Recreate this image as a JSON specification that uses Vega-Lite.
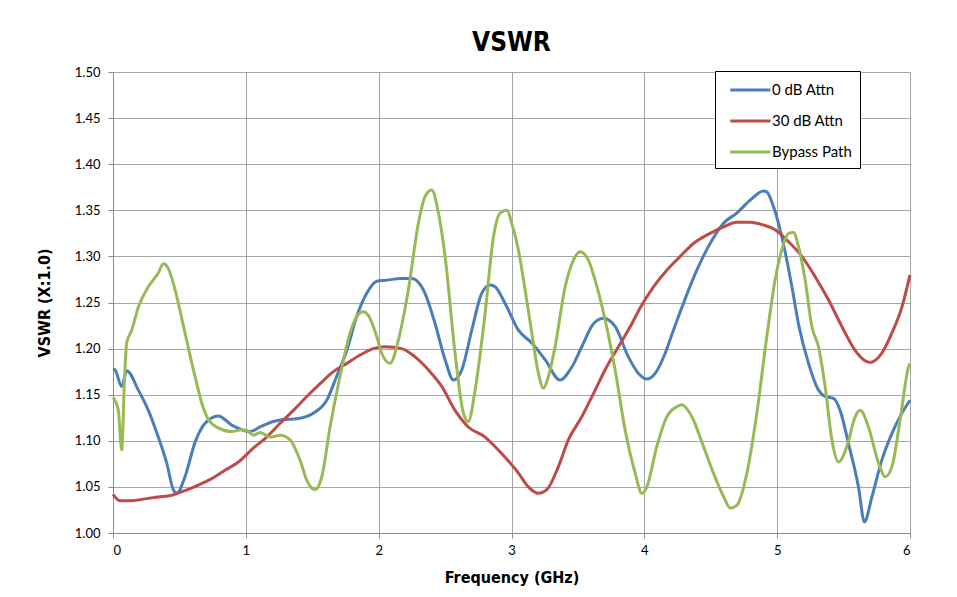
{
  "$schema": "https://vega.github.io/schema/vega-lite/v6.json",
  "autosize": "none",
  "width": 797,
  "height": 461,
  "padding": {"left": 113, "top": 72, "right": 47, "bottom": 64},
  "background": "white",
  "title": {"text": "VSWR", "anchor": "middle", "fontSize": 26, "font": "DejaVu Sans Condensed, Liberation Sans Narrow, sans-serif", "fontWeight": "bold", "color": "#000000", "offset": 10},
  "config": {
    "view": {"stroke": "#8c8c8c", "strokeWidth": 1},
    "axis": {"gridColor": "#a6a6a6", "gridWidth": 1, "domainColor": "#8c8c8c", "tickColor": "#8c8c8c", "tickSize": 5, "labelFont": "Lato", "labelFontSize": 13, "labelColor": "#000000", "titleFont": "DejaVu Sans Condensed, Liberation Sans Narrow, sans-serif", "titleFontSize": 16, "titleFontWeight": "bold", "titleColor": "#000000"},
    "legend": {"labelFont": "Lato", "labelFontSize": 15, "labelColor": "#000000"}
  },
  "data": {"values": [
    {"s":"0 dB Attn","f":0.0,"v":1.178},{"s":"0 dB Attn","f":0.015,"v":1.177},{"s":"0 dB Attn","f":0.066,"v":1.159},{"s":"0 dB Attn","f":0.103,"v":1.176},{"s":"0 dB Attn","f":0.191,"v":1.155},{"s":"0 dB Attn","f":0.266,"v":1.133},{"s":"0 dB Attn","f":0.341,"v":1.104},{"s":"0 dB Attn","f":0.404,"v":1.076},{"s":"0 dB Attn","f":0.454,"v":1.047},{"s":"0 dB Attn","f":0.48,"v":1.043},{"s":"0 dB Attn","f":0.542,"v":1.061},{"s":"0 dB Attn","f":0.617,"v":1.098},{"s":"0 dB Attn","f":0.693,"v":1.119},{"s":"0 dB Attn","f":0.793,"v":1.127},{"s":"0 dB Attn","f":0.894,"v":1.117},{"s":"0 dB Attn","f":0.969,"v":1.112},{"s":"0 dB Attn","f":1.032,"v":1.11},{"s":"0 dB Attn","f":1.107,"v":1.115},{"s":"0 dB Attn","f":1.207,"v":1.121},{"s":"0 dB Attn","f":1.282,"v":1.123},{"s":"0 dB Attn","f":1.383,"v":1.124},{"s":"0 dB Attn","f":1.508,"v":1.13},{"s":"0 dB Attn","f":1.609,"v":1.144},{"s":"0 dB Attn","f":1.684,"v":1.17},{"s":"0 dB Attn","f":1.76,"v":1.198},{"s":"0 dB Attn","f":1.835,"v":1.235},{"s":"0 dB Attn","f":1.91,"v":1.26},{"s":"0 dB Attn","f":1.986,"v":1.273},{"s":"0 dB Attn","f":2.048,"v":1.274},{"s":"0 dB Attn","f":2.174,"v":1.276},{"s":"0 dB Attn","f":2.249,"v":1.276},{"s":"0 dB Attn","f":2.349,"v":1.26},{"s":"0 dB Attn","f":2.425,"v":1.227},{"s":"0 dB Attn","f":2.5,"v":1.188},{"s":"0 dB Attn","f":2.563,"v":1.166},{"s":"0 dB Attn","f":2.626,"v":1.177},{"s":"0 dB Attn","f":2.701,"v":1.22},{"s":"0 dB Attn","f":2.776,"v":1.26},{"s":"0 dB Attn","f":2.839,"v":1.269},{"s":"0 dB Attn","f":2.877,"v":1.267},{"s":"0 dB Attn","f":2.952,"v":1.249},{"s":"0 dB Attn","f":3.052,"v":1.22},{"s":"0 dB Attn","f":3.153,"v":1.206},{"s":"0 dB Attn","f":3.253,"v":1.188},{"s":"0 dB Attn","f":3.366,"v":1.166},{"s":"0 dB Attn","f":3.454,"v":1.18},{"s":"0 dB Attn","f":3.529,"v":1.202},{"s":"0 dB Attn","f":3.617,"v":1.227},{"s":"0 dB Attn","f":3.692,"v":1.233},{"s":"0 dB Attn","f":3.78,"v":1.224},{"s":"0 dB Attn","f":3.88,"v":1.191},{"s":"0 dB Attn","f":3.956,"v":1.173},{"s":"0 dB Attn","f":4.019,"v":1.167},{"s":"0 dB Attn","f":4.081,"v":1.173},{"s":"0 dB Attn","f":4.157,"v":1.195},{"s":"0 dB Attn","f":4.219,"v":1.22},{"s":"0 dB Attn","f":4.294,"v":1.249},{"s":"0 dB Attn","f":4.395,"v":1.285},{"s":"0 dB Attn","f":4.495,"v":1.314},{"s":"0 dB Attn","f":4.596,"v":1.336},{"s":"0 dB Attn","f":4.696,"v":1.347},{"s":"0 dB Attn","f":4.797,"v":1.361},{"s":"0 dB Attn","f":4.897,"v":1.371},{"s":"0 dB Attn","f":4.922,"v":1.37},{"s":"0 dB Attn","f":4.972,"v":1.354},{"s":"0 dB Attn","f":5.06,"v":1.305},{"s":"0 dB Attn","f":5.111,"v":1.267},{"s":"0 dB Attn","f":5.16,"v":1.227},{"s":"0 dB Attn","f":5.236,"v":1.184},{"s":"0 dB Attn","f":5.311,"v":1.155},{"s":"0 dB Attn","f":5.361,"v":1.148},{"s":"0 dB Attn","f":5.424,"v":1.146},{"s":"0 dB Attn","f":5.474,"v":1.133},{"s":"0 dB Attn","f":5.537,"v":1.097},{"s":"0 dB Attn","f":5.612,"v":1.05},{"s":"0 dB Attn","f":5.657,"v":1.012},{"s":"0 dB Attn","f":5.713,"v":1.039},{"s":"0 dB Attn","f":5.788,"v":1.079},{"s":"0 dB Attn","f":5.864,"v":1.108},{"s":"0 dB Attn","f":5.939,"v":1.13},{"s":"0 dB Attn","f":6.0,"v":1.144},
    {"s":"30 dB Attn","f":0.0,"v":1.042},{"s":"30 dB Attn","f":0.053,"v":1.035},{"s":"30 dB Attn","f":0.141,"v":1.035},{"s":"30 dB Attn","f":0.241,"v":1.037},{"s":"30 dB Attn","f":0.341,"v":1.039},{"s":"30 dB Attn","f":0.442,"v":1.041},{"s":"30 dB Attn","f":0.542,"v":1.046},{"s":"30 dB Attn","f":0.642,"v":1.052},{"s":"30 dB Attn","f":0.743,"v":1.059},{"s":"30 dB Attn","f":0.843,"v":1.068},{"s":"30 dB Attn","f":0.944,"v":1.077},{"s":"30 dB Attn","f":1.056,"v":1.092},{"s":"30 dB Attn","f":1.157,"v":1.104},{"s":"30 dB Attn","f":1.258,"v":1.119},{"s":"30 dB Attn","f":1.358,"v":1.133},{"s":"30 dB Attn","f":1.459,"v":1.148},{"s":"30 dB Attn","f":1.559,"v":1.162},{"s":"30 dB Attn","f":1.659,"v":1.175},{"s":"30 dB Attn","f":1.76,"v":1.184},{"s":"30 dB Attn","f":1.86,"v":1.193},{"s":"30 dB Attn","f":1.96,"v":1.2},{"s":"30 dB Attn","f":2.048,"v":1.202},{"s":"30 dB Attn","f":2.174,"v":1.2},{"s":"30 dB Attn","f":2.274,"v":1.191},{"s":"30 dB Attn","f":2.374,"v":1.177},{"s":"30 dB Attn","f":2.475,"v":1.159},{"s":"30 dB Attn","f":2.575,"v":1.133},{"s":"30 dB Attn","f":2.675,"v":1.115},{"s":"30 dB Attn","f":2.801,"v":1.104},{"s":"30 dB Attn","f":2.901,"v":1.09},{"s":"30 dB Attn","f":2.977,"v":1.078},{"s":"30 dB Attn","f":3.052,"v":1.065},{"s":"30 dB Attn","f":3.127,"v":1.05},{"s":"30 dB Attn","f":3.203,"v":1.043},{"s":"30 dB Attn","f":3.266,"v":1.047},{"s":"30 dB Attn","f":3.353,"v":1.072},{"s":"30 dB Attn","f":3.428,"v":1.101},{"s":"30 dB Attn","f":3.529,"v":1.126},{"s":"30 dB Attn","f":3.63,"v":1.155},{"s":"30 dB Attn","f":3.705,"v":1.177},{"s":"30 dB Attn","f":3.805,"v":1.202},{"s":"30 dB Attn","f":3.906,"v":1.227},{"s":"30 dB Attn","f":3.968,"v":1.244},{"s":"30 dB Attn","f":4.069,"v":1.267},{"s":"30 dB Attn","f":4.169,"v":1.285},{"s":"30 dB Attn","f":4.27,"v":1.3},{"s":"30 dB Attn","f":4.37,"v":1.314},{"s":"30 dB Attn","f":4.495,"v":1.325},{"s":"30 dB Attn","f":4.596,"v":1.332},{"s":"30 dB Attn","f":4.696,"v":1.337},{"s":"30 dB Attn","f":4.797,"v":1.337},{"s":"30 dB Attn","f":4.897,"v":1.334},{"s":"30 dB Attn","f":4.985,"v":1.329},{"s":"30 dB Attn","f":5.085,"v":1.316},{"s":"30 dB Attn","f":5.186,"v":1.3},{"s":"30 dB Attn","f":5.286,"v":1.278},{"s":"30 dB Attn","f":5.386,"v":1.253},{"s":"30 dB Attn","f":5.487,"v":1.224},{"s":"30 dB Attn","f":5.587,"v":1.198},{"s":"30 dB Attn","f":5.65,"v":1.188},{"s":"30 dB Attn","f":5.7,"v":1.185},{"s":"30 dB Attn","f":5.788,"v":1.195},{"s":"30 dB Attn","f":5.864,"v":1.217},{"s":"30 dB Attn","f":5.939,"v":1.245},{"s":"30 dB Attn","f":6.0,"v":1.28},
    {"s":"Bypass Path","f":0.0,"v":1.147},{"s":"Bypass Path","f":0.04,"v":1.133},{"s":"Bypass Path","f":0.066,"v":1.09},{"s":"Bypass Path","f":0.085,"v":1.162},{"s":"Bypass Path","f":0.103,"v":1.206},{"s":"Bypass Path","f":0.141,"v":1.22},{"s":"Bypass Path","f":0.191,"v":1.245},{"s":"Bypass Path","f":0.266,"v":1.267},{"s":"Bypass Path","f":0.341,"v":1.282},{"s":"Bypass Path","f":0.379,"v":1.292},{"s":"Bypass Path","f":0.416,"v":1.287},{"s":"Bypass Path","f":0.467,"v":1.264},{"s":"Bypass Path","f":0.542,"v":1.217},{"s":"Bypass Path","f":0.617,"v":1.17},{"s":"Bypass Path","f":0.668,"v":1.141},{"s":"Bypass Path","f":0.718,"v":1.123},{"s":"Bypass Path","f":0.793,"v":1.114},{"s":"Bypass Path","f":0.894,"v":1.11},{"s":"Bypass Path","f":0.969,"v":1.112},{"s":"Bypass Path","f":1.019,"v":1.11},{"s":"Bypass Path","f":1.056,"v":1.106},{"s":"Bypass Path","f":1.107,"v":1.109},{"s":"Bypass Path","f":1.182,"v":1.104},{"s":"Bypass Path","f":1.258,"v":1.106},{"s":"Bypass Path","f":1.333,"v":1.101},{"s":"Bypass Path","f":1.408,"v":1.079},{"s":"Bypass Path","f":1.459,"v":1.057},{"s":"Bypass Path","f":1.521,"v":1.047},{"s":"Bypass Path","f":1.572,"v":1.061},{"s":"Bypass Path","f":1.634,"v":1.115},{"s":"Bypass Path","f":1.709,"v":1.17},{"s":"Bypass Path","f":1.785,"v":1.217},{"s":"Bypass Path","f":1.835,"v":1.235},{"s":"Bypass Path","f":1.885,"v":1.24},{"s":"Bypass Path","f":1.922,"v":1.236},{"s":"Bypass Path","f":1.986,"v":1.213},{"s":"Bypass Path","f":2.023,"v":1.195},{"s":"Bypass Path","f":2.086,"v":1.184},{"s":"Bypass Path","f":2.148,"v":1.209},{"s":"Bypass Path","f":2.224,"v":1.264},{"s":"Bypass Path","f":2.299,"v":1.336},{"s":"Bypass Path","f":2.349,"v":1.365},{"s":"Bypass Path","f":2.4,"v":1.372},{"s":"Bypass Path","f":2.45,"v":1.347},{"s":"Bypass Path","f":2.5,"v":1.3},{"s":"Bypass Path","f":2.575,"v":1.195},{"s":"Bypass Path","f":2.638,"v":1.13},{"s":"Bypass Path","f":2.675,"v":1.121},{"s":"Bypass Path","f":2.726,"v":1.155},{"s":"Bypass Path","f":2.801,"v":1.238},{"s":"Bypass Path","f":2.864,"v":1.321},{"s":"Bypass Path","f":2.914,"v":1.347},{"s":"Bypass Path","f":2.965,"v":1.35},{"s":"Bypass Path","f":3.002,"v":1.336},{"s":"Bypass Path","f":3.052,"v":1.307},{"s":"Bypass Path","f":3.102,"v":1.264},{"s":"Bypass Path","f":3.153,"v":1.217},{"s":"Bypass Path","f":3.203,"v":1.173},{"s":"Bypass Path","f":3.24,"v":1.157},{"s":"Bypass Path","f":3.278,"v":1.17},{"s":"Bypass Path","f":3.328,"v":1.202},{"s":"Bypass Path","f":3.404,"v":1.267},{"s":"Bypass Path","f":3.466,"v":1.296},{"s":"Bypass Path","f":3.517,"v":1.305},{"s":"Bypass Path","f":3.579,"v":1.296},{"s":"Bypass Path","f":3.63,"v":1.274},{"s":"Bypass Path","f":3.705,"v":1.231},{"s":"Bypass Path","f":3.78,"v":1.177},{"s":"Bypass Path","f":3.855,"v":1.112},{"s":"Bypass Path","f":3.931,"v":1.065},{"s":"Bypass Path","f":3.981,"v":1.043},{"s":"Bypass Path","f":4.019,"v":1.05},{"s":"Bypass Path","f":4.094,"v":1.094},{"s":"Bypass Path","f":4.169,"v":1.126},{"s":"Bypass Path","f":4.245,"v":1.137},{"s":"Bypass Path","f":4.282,"v":1.139},{"s":"Bypass Path","f":4.358,"v":1.126},{"s":"Bypass Path","f":4.445,"v":1.094},{"s":"Bypass Path","f":4.52,"v":1.065},{"s":"Bypass Path","f":4.608,"v":1.036},{"s":"Bypass Path","f":4.646,"v":1.027},{"s":"Bypass Path","f":4.696,"v":1.03},{"s":"Bypass Path","f":4.772,"v":1.065},{"s":"Bypass Path","f":4.847,"v":1.13},{"s":"Bypass Path","f":4.922,"v":1.213},{"s":"Bypass Path","f":4.985,"v":1.275},{"s":"Bypass Path","f":5.035,"v":1.307},{"s":"Bypass Path","f":5.085,"v":1.325},{"s":"Bypass Path","f":5.123,"v":1.326},{"s":"Bypass Path","f":5.16,"v":1.311},{"s":"Bypass Path","f":5.211,"v":1.274},{"s":"Bypass Path","f":5.261,"v":1.224},{"s":"Bypass Path","f":5.311,"v":1.202},{"s":"Bypass Path","f":5.361,"v":1.159},{"s":"Bypass Path","f":5.412,"v":1.101},{"s":"Bypass Path","f":5.462,"v":1.077},{"s":"Bypass Path","f":5.525,"v":1.094},{"s":"Bypass Path","f":5.587,"v":1.126},{"s":"Bypass Path","f":5.625,"v":1.133},{"s":"Bypass Path","f":5.687,"v":1.115},{"s":"Bypass Path","f":5.763,"v":1.076},{"s":"Bypass Path","f":5.813,"v":1.061},{"s":"Bypass Path","f":5.864,"v":1.072},{"s":"Bypass Path","f":5.926,"v":1.123},{"s":"Bypass Path","f":5.989,"v":1.18},{"s":"Bypass Path","f":6.0,"v":1.184}
  ]},
  "mark": {"type": "line", "strokeWidth": 3, "interpolate": "monotone"},
  "encoding": {
    "x": {"field": "f", "type": "quantitative", "title": "Frequency (GHz)",
      "scale": {"domain": [0, 6], "nice": false},
      "axis": {"values": [0,1,2,3,4,5,6], "format": "d", "labelPadding": 6, "titlePadding": 12}},
    "y": {"field": "v", "type": "quantitative", "title": "VSWR (X:1.0)",
      "scale": {"domain": [1.0, 1.5], "nice": false, "zero": false},
      "axis": {"values": [1.0,1.05,1.1,1.15,1.2,1.25,1.3,1.35,1.4,1.45,1.5], "format": ".2f", "labelPadding": 8, "titlePadding": 22}},
    "color": {"field": "s", "type": "nominal",
      "scale": {"domain": ["0 dB Attn", "30 dB Attn", "Bypass Path"], "range": ["#4a7ebb", "#be4b48", "#98b954"]},
      "legend": {"title": null, "orient": "none", "legendX": 602, "legendY": -1, "symbolType": "M-0.4,0H3.9", "symbolSize": 350, "symbolStrokeWidth": 3, "rowPadding": 12, "labelOffset": 27, "padding": 8, "fillColor": "white", "strokeColor": "#000000", "labelLimit": 200}}
  }
}
